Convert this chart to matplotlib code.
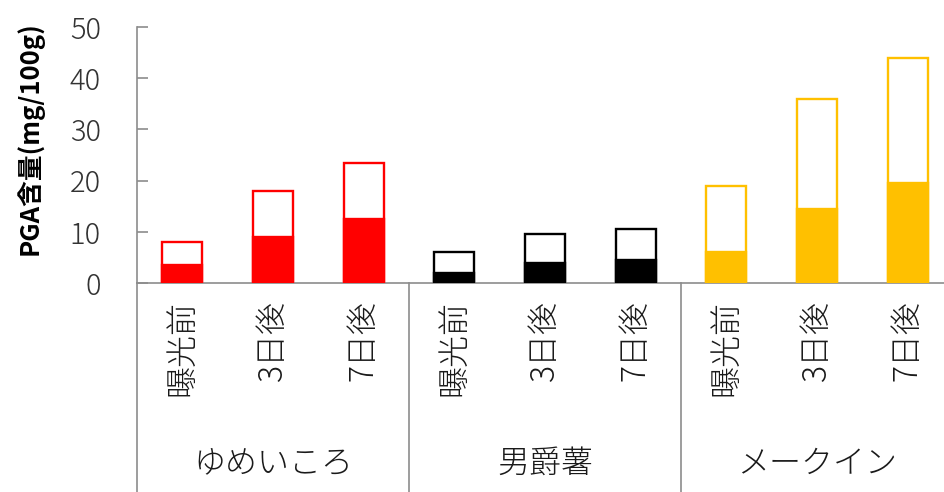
import matplotlib
matplotlib.use('Agg')
import matplotlib.pyplot as plt
import matplotlib.transforms as mtransforms

plt.rcParams['font.family'] = ['Noto Sans CJK JP', 'DejaVu Sans']

# varieties and sampling timing
groups = ['ゆめいころ', '男爵薯', 'メークイン']
timings = ['曝光前', '3日後', '7日後']
colors = ['#FF0000', '#000000', '#FFC000']

# PGA content (mg/100g): lower filled part and total height of each bar
filled = [
    [3.5, 9.0, 12.5],
    [2.0, 4.0, 4.5],
    [6.0, 14.5, 19.5],
]
total = [
    [8.0, 18.0, 23.5],
    [6.0, 9.5, 10.5],
    [19.0, 36.0, 44.0],
]

yticks = [0, 10, 20, 30, 40, 50]
axis_gray = '#8C8C8C'


def run():
    fig = plt.figure(figsize=(9.44, 4.92), dpi=100)
    ax = fig.add_axes([0.1451, 0.4248, 0.8644, 0.5203])

    width = 0.44
    labels = []
    for g in range(len(groups)):
        for t in range(len(timings)):
            x = g * len(timings) + t
            ax.bar(x, total[g][t], width=width, color='white',
                   edgecolor=colors[g], linewidth=1.7, zorder=2)
            ax.bar(x, filled[g][t], width=width, color=colors[g],
                   edgecolor=colors[g], linewidth=1.7, zorder=3)
            labels.append(timings[t])

    n = len(labels)
    ax.set_xlim(-0.5, n - 0.5)
    ax.set_ylim(0, 50)
    ax.set_yticks(yticks)
    ax.set_xticks(range(n))
    ax.set_xticklabels(labels, rotation=90, fontsize=23, color='#1A1A1A',
                       fontweight='light')
    ax.set_yticklabels([str(v) for v in yticks], fontweight='light')
    ax.tick_params(axis='x', length=0, pad=12)
    ax.tick_params(axis='y', direction='in', length=8, width=1.2,
                   color=axis_gray, pad=26, labelsize=21, labelcolor='#333333')

    for side in ['top', 'right']:
        ax.spines[side].set_visible(False)
    for side in ['left', 'bottom']:
        ax.spines[side].set_color(axis_gray)
        ax.spines[side].set_linewidth(1.2)

    # group separators below the axis and group names
    trans = mtransforms.blended_transform_factory(ax.transData, ax.transAxes)
    for k in range(len(groups) + 1):
        xs = k * len(timings) - 0.5
        ax.plot([xs, xs], [0, -0.9], transform=trans, color=axis_gray,
                linewidth=1.2, clip_on=False)
    for g, name in enumerate(groups):
        xc = g * len(timings) + (len(timings) - 1) / 2
        ax.text(xc, -0.705, name, transform=trans, ha='center', va='center',
                fontsize=23, color='#1A1A1A', fontweight='light')

    fig.text(30 / 944, 1 - 138 / 492, 'PGA含量(mg/100g)', rotation=90,
             ha='center', va='center', fontsize=18.5, fontweight='bold')

    plt.savefig('out.png', dpi=100)


if __name__ == '__main__':
    run()
